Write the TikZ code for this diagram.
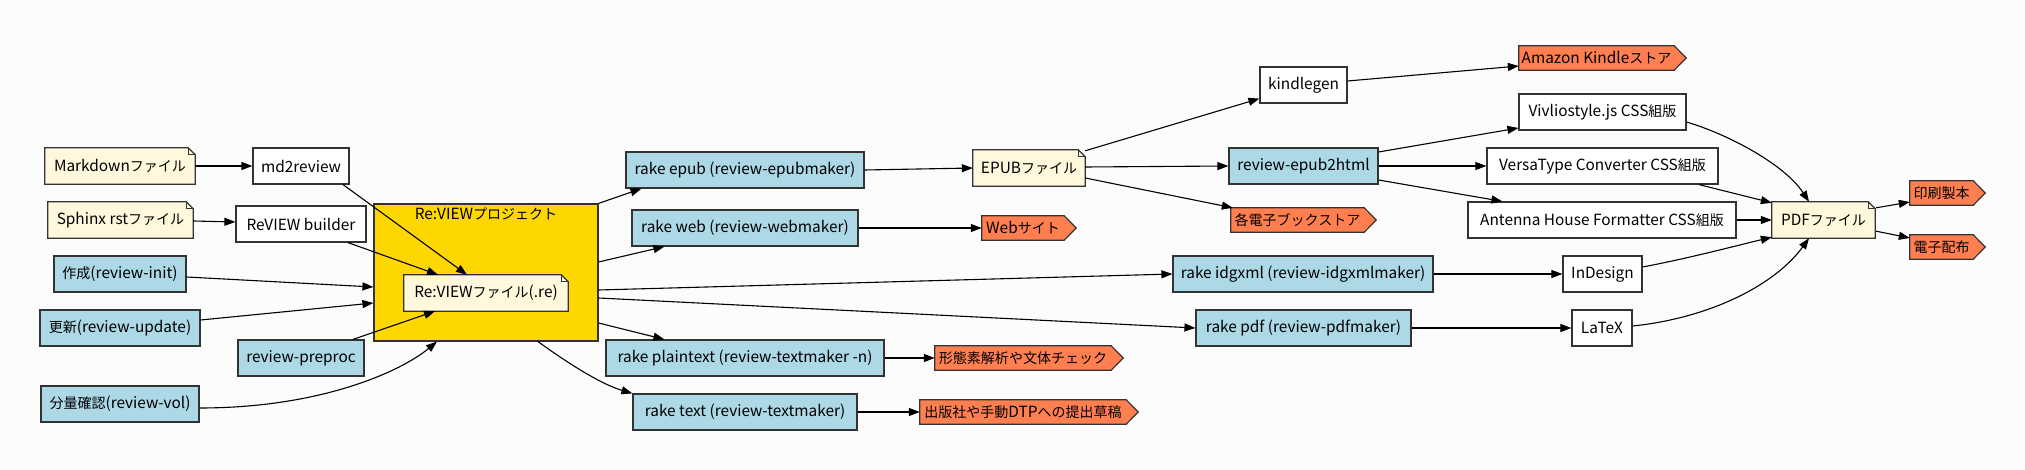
\documentclass[tikz,border=0pt]{standalone}
\usepackage{fontspec}
\setmainfont{Noto Sans CJK JP}
\newfontfamily\jpfont{Noto Sans CJK JP}[Scale=0.91]
\newcommand{\jpt}[1]{{\jpfont #1}}
\usetikzlibrary{arrows.meta,backgrounds}
\definecolor{bgcol}{RGB}{252,252,252}
\definecolor{nodeblue}{RGB}{173,216,230}
\definecolor{notecol}{RGB}{255,248,220}
\definecolor{clustercol}{RGB}{255,215,0}
\definecolor{cdscol}{RGB}{255,127,80}
\definecolor{bordercol}{RGB}{51,51,51}
\newcommand{\mynote}[1]{%
  \filldraw[fill=notecol, draw=bordercol, line width=1.2pt]
    (#1.south west) -- (#1.north west) -- ([shift={(-7,0)}]#1.north east) -- ([shift={(0,7)}]#1.north east) -- (#1.south east) -- cycle;
  \draw[bordercol, line width=0.8pt] ([shift={(-7,0)}]#1.north east) -- ([shift={(-7,7)}]#1.north east) -- ([shift={(0,7)}]#1.north east);}
\newcommand{\mycds}[1]{%
  \filldraw[fill=cdscol, draw=bordercol, line width=1.2pt]
    (#1.south west) -- (#1.north west) -- (#1.north east) -- ([shift={(12,0)}]#1.east) -- (#1.south east) -- cycle;}
\begin{document}
\begin{tikzpicture}[x=1pt,y=-1pt,
  base/.style={inner sep=0pt, minimum height=36pt, font=\fontsize{15.4}{18}\selectfont, text=black},
  plainbox/.style={base, draw=bordercol, line width=1.2pt, fill=white},
  bluebox/.style={base, draw=bordercol, line width=1.2pt, fill=nodeblue},
  notebox/.style={base},
  cdsbox/.style={base, minimum height=24pt},
  arr/.style={-{Triangle[length=11pt,width=8pt]}, line width=1.1pt, black},
]
\useasboundingbox (0,0) rectangle (2025,470);
% left column
\node[notebox, minimum width=150pt] (mdf) at (120,166) {Markdown\jpt{ファイル}};
\node[notebox, minimum width=145pt] (sph) at (120.5,220) {Sphinx rst\jpt{ファイル}};
\node[bluebox, minimum width=132pt] (init) at (120,274) {\jpt{作成}(review-init)};
\node[bluebox, minimum width=160pt] (upd) at (120,328) {\jpt{更新}(review-update)};
\node[bluebox, minimum width=158pt] (vol) at (120,404) {\jpt{分量確認}(review-vol)};
\node[plainbox, minimum width=96pt] (md2) at (301,166) {md2review};
\node[plainbox, minimum width=130pt] (bld) at (301,224) {ReVIEW builder};
\node[bluebox, minimum width=126pt] (pre) at (301,358) {review-preproc};
% cluster content
\node[base] (clulabel) at (486,214) {Re:VIEW\jpt{プロジェクト}};
\node[notebox, minimum width=164pt] (ref) at (486,293) {Re:VIEW\jpt{ファイル}(.re)};
% rake column
\node[bluebox, minimum width=238pt] (epub) at (745,170) {rake epub (review-epubmaker)};
\node[bluebox, minimum width=226pt] (web) at (745,228) {rake web (review-webmaker)};
\node[bluebox, minimum width=278pt] (plain) at (745,358) {rake plaintext (review-textmaker -n)};
\node[bluebox, minimum width=224pt] (text) at (745,412) {rake text (review-textmaker)};
% outputs column
\node[notebox, minimum width=112pt] (epf) at (1029,168) {EPUB\jpt{ファイル}};
\node[cdsbox, minimum width=82pt] (site) at (1023,228) {Web\jpt{サイト}};
\node[cdsbox, minimum width=176pt] (morph) at (1023,358) {\jpt{形態素解析や文体チェック}};
\node[cdsbox, minimum width=206pt] (draft) at (1023,412) {\jpt{出版社や手動}DTP\jpt{への提出草稿}};
% next column
\node[plainbox, minimum width=87pt] (kg) at (1303.5,85) {kindlegen};
\node[bluebox, minimum width=149pt] (e2h) at (1303.5,166) {review-epub2html};
\node[cdsbox, minimum width=133pt] (store) at (1297.5,220) {\jpt{各電子ブックストア}};
\node[bluebox, minimum width=260pt] (idg) at (1303,274) {rake idgxml (review-idgxmlmaker)};
\node[bluebox, minimum width=215pt] (pdf) at (1303.5,328) {rake pdf (review-pdfmaker)};
% typesetting column
\node[cdsbox, minimum width=155pt] (amz) at (1596.5,58) {Amazon Kindle\jpt{ストア}};
\node[plainbox, minimum width=167pt] (viv) at (1602.5,112) {Vivliostyle.js CSS\jpt{組版}};
\node[plainbox, minimum width=231pt] (vt) at (1602.5,166) {VersaType Converter CSS\jpt{組版}};
\node[plainbox, minimum width=268pt] (ah) at (1602,220) {Antenna House Formatter CSS\jpt{組版}};
\node[plainbox, minimum width=79pt] (ind) at (1602.5,274) {InDesign};
\node[plainbox, minimum width=60pt] (ltx) at (1602,328) {LaTeX};
% final
\node[notebox, minimum width=103pt] (pdff) at (1823.5,220) {PDF\jpt{ファイル}};
\node[cdsbox, minimum width=63pt] (print) at (1941.5,193) {\jpt{印刷製本}};
\node[cdsbox, minimum width=63pt] (edist) at (1941.5,247) {\jpt{電子配布}};

\begin{scope}[on background layer]
  \fill[bgcol] (0,0) rectangle (2025,470);
  \node[draw=bordercol, line width=1.2pt, fill=clustercol, minimum width=224pt, minimum height=137pt, inner sep=0pt] (clu) at (486,272.5) {};
  \mynote{mdf}\mynote{sph}\mynote{ref}\mynote{epf}\mynote{pdff}
  \mycds{site}\mycds{morph}\mycds{draft}\mycds{store}\mycds{amz}\mycds{print}\mycds{edist}
\end{scope}

% edges
\draw[arr] (mdf.east) -- (md2.west);
\draw[arr] ([shift={(0,1)}]sph.east) -- ([shift={(0,-2)}]bld.west);
\draw[arr] ([shift={(42,0)}]md2.south) -- ([shift={(-19,0)}]ref.north);
\draw[arr] ([shift={(47,0)}]bld.south) -- ([shift={(-48,0)}]ref.north);
\draw[arr] ([shift={(0,3)}]init.east) -- ([shift={(0,14.5)}]clu.west);
\draw[arr] ([shift={(0,-8)}]upd.east) -- ([shift={(0,30.5)}]clu.west);
\draw[arr] ([shift={(52,0)}]pre.north) -- ([shift={(-51,0)}]ref.south);
\draw[arr] ([shift={(0,4)}]vol.east) .. controls (320,408) and (400,372) .. ([shift={(-49,0)}]clu.south);
\draw[arr] (clu.north east) -- ([shift={(16,0)}]epub.south west);
\draw[arr] ([shift={(0,-10.5)}]clu.east) -- ([shift={(33,0)}]web.south west);
\draw[arr] ([shift={(0,17.5)}]clu.east) -- (idg.west);
\draw[arr] ([shift={(0,25.5)}]clu.east) -- (pdf.west);
\draw[arr] ([shift={(0,50.5)}]clu.east) -- ([shift={(59,0)}]plain.north west);
\draw[arr] ([shift={(52,0)}]clu.south) .. controls (558,356) and (597,383) .. (text.north west);
\draw[arr] (epub.east) -- (epf.west);
\draw[arr] (web.east) -- (site.west);
\draw[arr] (plain.east) -- (morph.west);
\draw[arr] (text.east) -- (draft.west);
\draw[arr] ([shift={(0,1)}]epf.north east) -- ([shift={(0,-5)}]kg.south west);
\draw[arr] ([shift={(0,-1)}]epf.east) -- (e2h.west);
\draw[arr] ([shift={(0,10)}]epf.east) -- ([shift={(2,0)}]store.north west);
\draw[arr] ([shift={(0,-4)}]kg.east) -- ([shift={(0,8)}]amz.west);
\draw[arr] ([shift={(0,-14)}]e2h.east) -- ([shift={(0,16)}]viv.west);
\draw[arr] (e2h.east) -- (vt.west);
\draw[arr] ([shift={(0,14)}]e2h.east) -- ([shift={(35,0)}]ah.north west);
\draw[arr] (idg.east) -- (ind.west);
\draw[arr] (pdf.east) -- (ltx.west);
\draw[arr] ([shift={(0,10)}]viv.east) .. controls (1730,135) and (1785,165) .. ([shift={(-14.5,0)}]pdff.north);
\draw[arr] ([shift={(96.5,0)}]vt.south) -- ([shift={(0,1)}]pdff.north west);
\draw[arr] (ah.east) -- (pdff.west);
\draw[arr] ([shift={(0,-7)}]ind.east) .. controls (1690,258) and (1735,246) .. ([shift={(0,-1)}]pdff.south west);
\draw[arr] ([shift={(0,-2)}]ltx.east) .. controls (1710,318) and (1775,285) .. ([shift={(-14.5,0)}]pdff.south);
\draw[arr] ([shift={(1,6)}]pdff.north east) -- ([shift={(0,9)}]print.west);
\draw[arr] ([shift={(1,-7)}]pdff.south east) -- ([shift={(0,-9)}]edist.west);
\end{tikzpicture}
\end{document}
